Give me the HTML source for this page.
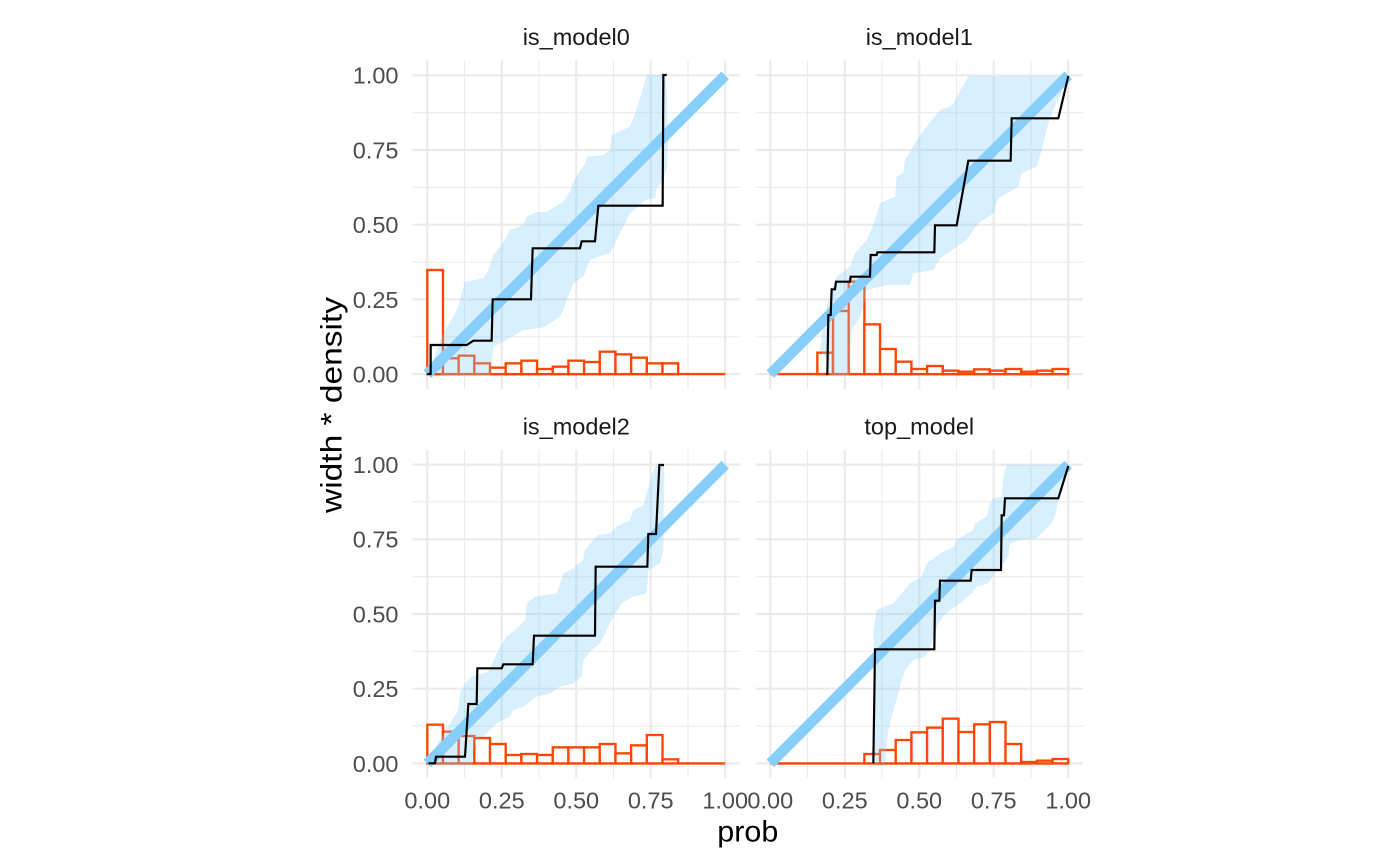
<!DOCTYPE html>
<html><head><meta charset="utf-8"><style>
html,body{margin:0;padding:0;background:#fff;}
svg{display:block;}
text{font-family:"Liberation Sans",sans-serif;}
</style></head><body>
<svg width="1400" height="865" viewBox="0 0 1400 865" xmlns="http://www.w3.org/2000/svg">
<rect width="1400" height="865" fill="#fff"/>
<!-- grids -->
<g fill="none" stroke="#EBEBEB">
<path stroke-width="1.1" d="M464.5 60.4V389M539 60.4V389M613.5 60.4V389M688 60.4V389M412.4 336.75H740.1M412.4 262.05H740.1M412.4 187.35H740.1M412.4 112.65H740.1"/>
<path stroke-width="2.2" d="M427.3 60.4V389M501.8 60.4V389M576.25 60.4V389M650.7 60.4V389M725.2 60.4V389M412.4 374.1H740.1M412.4 299.4H740.1M412.4 224.7H740.1M412.4 150H740.1M412.4 75.3H740.1"/>
<path stroke-width="1.1" d="M807.5 60.4V389M882 60.4V389M956.5 60.4V389M1031 60.4V389M755.4 336.75H1083.1M755.4 262.05H1083.1M755.4 187.35H1083.1M755.4 112.65H1083.1"/>
<path stroke-width="2.2" d="M770.3 60.4V389M844.8 60.4V389M919.25 60.4V389M993.7 60.4V389M1068.2 60.4V389M755.4 374.1H1083.1M755.4 299.4H1083.1M755.4 224.7H1083.1M755.4 150H1083.1M755.4 75.3H1083.1"/>
<path stroke-width="1.1" d="M464.5 449.7V778.3M539 449.7V778.3M613.5 449.7V778.3M688 449.7V778.3M412.4 726.05H740.1M412.4 651.35H740.1M412.4 576.65H740.1M412.4 501.95H740.1"/>
<path stroke-width="2.2" d="M427.3 449.7V778.3M501.8 449.7V778.3M576.25 449.7V778.3M650.7 449.7V778.3M725.2 449.7V778.3M412.4 763.4H740.1M412.4 688.7H740.1M412.4 614H740.1M412.4 539.3H740.1M412.4 464.6H740.1"/>
<path stroke-width="1.1" d="M807.5 449.7V778.3M882 449.7V778.3M956.5 449.7V778.3M1031 449.7V778.3M755.4 726.05H1083.1M755.4 651.35H1083.1M755.4 576.65H1083.1M755.4 501.95H1083.1"/>
<path stroke-width="2.2" d="M770.3 449.7V778.3M844.8 449.7V778.3M919.25 449.7V778.3M993.7 449.7V778.3M1068.2 449.7V778.3M755.4 763.4H1083.1M755.4 688.7H1083.1M755.4 614H1083.1M755.4 539.3H1083.1M755.4 464.6H1083.1"/>
</g>

<!-- Panel 1 -->
<g transform="translate(400,40) scale(0.333333)">
<g fill="#fff" stroke="#FF4500" stroke-width="7">
<line x1="81.9" y1="1002.3" x2="975.6" y2="1002.3"/>
<rect x="81.9" y="690" width="47.04" height="312.3"/>
<rect x="128.9" y="955" width="47.04" height="47.3"/>
<rect x="176.0" y="947" width="47.04" height="55.3"/>
<rect x="223.0" y="970" width="47.04" height="32.3"/>
<rect x="270.1" y="983" width="47.04" height="19.3"/>
<rect x="317.1" y="970" width="47.04" height="32.3"/>
<rect x="364.1" y="962" width="47.04" height="40.3"/>
<rect x="411.2" y="987" width="47.04" height="15.3"/>
<rect x="458.2" y="980" width="47.04" height="22.3"/>
<rect x="505.3" y="962" width="47.04" height="40.3"/>
<rect x="552.3" y="966" width="47.04" height="36.3"/>
<rect x="599.3" y="935" width="47.04" height="67.3"/>
<rect x="646.4" y="943" width="47.04" height="59.3"/>
<rect x="693.4" y="953" width="47.04" height="49.3"/>
<rect x="740.5" y="970" width="47.04" height="32.3"/>
<rect x="787.5" y="970" width="47.04" height="32.3"/>
</g>
<polygon fill="#87CEFA" fill-opacity="0.32" points="85,1000 100,960 120,905 135,870 160,830 175,800 185,760 195,725 250,715 265,690 280,645 300,620 320,590 330,570 370,555 380,530 405,518 440,515 490,485 510,455 520,425 545,385 555,370 560,350 610,345 630,330 635,285 690,260 705,220 715,190 730,140 740,105 795,105 800,150 805,300 800,390 785,425 770,445 765,475 735,480 715,500 690,520 670,560 650,600 630,640 595,650 570,660 550,710 520,730 500,780 490,810 480,830 450,850 430,862 370,870 320,900 280,920 271,1006 125,1006 110,990"/>
<line x1="81.9" y1="1002.3" x2="975.6" y2="105.9" stroke="#87CEFA" stroke-width="32"/>
<polyline fill="none" stroke="#000" stroke-width="6.5" points="82,1002 92,1002 92,915 200,915 220,902 275,902 278,778 393,778 398,625 540,625 545,604 585,604 595,497 788,497 790,105 800,105"/>
</g>

<!-- Panel 2 -->
<g transform="translate(740,40) scale(0.333333)">
<g fill="#fff" stroke="#FF4500" stroke-width="7">
<line x1="90.9" y1="1002.3" x2="984.6" y2="1002.3"/>
<rect x="232.0" y="938" width="47.04" height="64.3"/>
<rect x="279.1" y="813" width="47.04" height="189.3"/>
<rect x="326.1" y="725" width="47.04" height="277.3"/>
<rect x="373.1" y="853" width="47.04" height="149.3"/>
<rect x="420.2" y="927" width="47.04" height="75.3"/>
<rect x="467.2" y="965" width="47.04" height="37.3"/>
<rect x="514.3" y="987" width="47.04" height="15.3"/>
<rect x="561.3" y="978" width="47.04" height="24.3"/>
<rect x="608.3" y="992" width="47.04" height="10.3"/>
<rect x="655.4" y="995" width="47.04" height="7.3"/>
<rect x="702.4" y="988" width="47.04" height="14.3"/>
<rect x="749.5" y="992" width="47.04" height="10.3"/>
<rect x="796.5" y="987" width="47.04" height="15.3"/>
<rect x="843.5" y="995" width="47.04" height="7.3"/>
<rect x="890.6" y="992" width="47.04" height="10.3"/>
<rect x="937.6" y="987" width="47.04" height="15.3"/>
</g>
<polygon fill="#87CEFA" fill-opacity="0.32" points="240,930 250,850 262,790 290,710 330,680 345,640 380,600 400,555 420,490 465,470 470,410 490,400 495,360 530,300 560,260 600,210 630,200 640,190 685,108 985,108 940,210 925,250 905,330 890,380 845,400 835,440 775,475 760,520 715,550 700,570 680,600 600,655 580,690 520,700 510,735 440,735 380,750 370,800 355,840 335,870 328,1006 272,1006 262,960"/>
<line x1="90.9" y1="1002.3" x2="984.6" y2="105.9" stroke="#87CEFA" stroke-width="32"/>
<polyline fill="none" stroke="#000" stroke-width="6.5" points="258,1002 262,1002 265,825 272,825 275,748 285,748 288,725 330,725 332,710 390,710 392,645 410,645 412,637 583,637 585,556 650,556 685,362 812,362 815,235 955,235 985,108"/>
</g>

<!-- Panel 3 -->
<g transform="translate(400,430) scale(0.333333)">
<g fill="#fff" stroke="#FF4500" stroke-width="7">
<line x1="81.9" y1="1000.2" x2="975.6" y2="1000.2"/>
<rect x="81.9" y="884" width="47.04" height="116.2"/>
<rect x="128.9" y="905" width="47.04" height="95.2"/>
<rect x="176.0" y="918" width="47.04" height="82.2"/>
<rect x="223.0" y="924" width="47.04" height="76.2"/>
<rect x="270.1" y="942" width="47.04" height="58.2"/>
<rect x="317.1" y="975" width="47.04" height="25.2"/>
<rect x="364.1" y="972" width="47.04" height="28.2"/>
<rect x="411.2" y="975" width="47.04" height="25.2"/>
<rect x="458.2" y="952" width="47.04" height="48.2"/>
<rect x="505.3" y="952" width="47.04" height="48.2"/>
<rect x="552.3" y="952" width="47.04" height="48.2"/>
<rect x="599.3" y="942" width="47.04" height="58.2"/>
<rect x="646.4" y="970" width="47.04" height="30.2"/>
<rect x="693.4" y="946" width="47.04" height="54.2"/>
<rect x="740.5" y="915" width="47.04" height="85.2"/>
<rect x="787.5" y="988" width="47.04" height="12.2"/>
</g>
<polygon fill="#87CEFA" fill-opacity="0.32" points="85,990 120,930 150,880 175,840 180,790 195,760 215,740 265,725 300,650 320,620 345,600 375,570 380,520 405,500 470,490 480,460 490,430 520,415 550,390 555,360 580,330 595,315 630,310 650,290 690,270 700,240 730,225 740,190 750,160 760,120 770,104 792,104 793,130 790,360 780,400 745,420 740,490 700,500 665,520 640,560 600,640 575,660 550,690 545,740 520,760 480,770 450,790 410,800 370,830 340,840 330,860 290,880 270,900 250,920 225,925 215,1004 120,1004 95,1000"/>
<line x1="81.9" y1="1000.2" x2="975.6" y2="103.8" stroke="#87CEFA" stroke-width="32"/>
<polyline fill="none" stroke="#000" stroke-width="6.5" points="85,1000 105,1000 108,980 195,980 205,822 230,822 232,715 305,715 310,703 398,703 402,617 585,617 587,410 742,410 745,312 768,312 778,105 792,105"/>
</g>

<!-- Panel 4 -->
<g transform="translate(740,430) scale(0.333333)">
<g fill="#fff" stroke="#FF4500" stroke-width="7">
<line x1="90.9" y1="1000.2" x2="984.6" y2="1000.2"/>
<rect x="373.1" y="972" width="47.04" height="28.2"/>
<rect x="420.2" y="960" width="47.04" height="40.2"/>
<rect x="467.2" y="930" width="47.04" height="70.2"/>
<rect x="514.3" y="907" width="47.04" height="93.2"/>
<rect x="561.3" y="893" width="47.04" height="107.2"/>
<rect x="608.3" y="866" width="47.04" height="134.2"/>
<rect x="655.4" y="906" width="47.04" height="94.2"/>
<rect x="702.4" y="883" width="47.04" height="117.2"/>
<rect x="749.5" y="876" width="47.04" height="124.2"/>
<rect x="796.5" y="942" width="47.04" height="58.2"/>
<rect x="843.5" y="996" width="47.04" height="4.2"/>
<rect x="890.6" y="992" width="47.04" height="8.2"/>
<rect x="937.6" y="987" width="47.04" height="13.2"/>
</g>
<polygon fill="#87CEFA" fill-opacity="0.32" points="405,1000 400,600 410,540 460,520 510,460 545,440 560,400 600,370 640,350 650,330 700,300 705,280 740,260 750,220 760,205 785,200 790,140 800,104 985,104 955,210 945,260 930,285 890,325 840,330 810,340 805,380 790,400 770,420 745,460 710,470 695,490 660,520 630,540 610,560 595,580 580,620 570,660 555,680 520,690 495,720 480,770 470,810 455,860 445,900 440,950 435,1000"/>
<line x1="90.9" y1="1000.2" x2="984.6" y2="103.8" stroke="#87CEFA" stroke-width="32"/>
<polyline fill="none" stroke="#000" stroke-width="6.5" points="400,1000 405,658 583,658 585,512 598,512 600,452 692,452 695,420 783,420 785,256 792,256 795,205 955,205 985,108"/>
</g>

<!-- strip labels -->
<g font-size="23.5" fill="#1A1A1A" text-anchor="middle">
<text x="576.25" y="45">is_model0</text>
<text x="919.25" y="45">is_model1</text>
<text x="576.25" y="434.5">is_model2</text>
<text x="919.25" y="434.5">top_model</text>
</g>

<!-- y tick labels -->
<g font-size="23.5" fill="#4D4D4D" text-anchor="end">
<text x="398.5" y="382.5">0.00</text>
<text x="398.5" y="307.8">0.25</text>
<text x="398.5" y="233.1">0.50</text>
<text x="398.5" y="158.4">0.75</text>
<text x="398.5" y="83.7">1.00</text>
<text x="398.5" y="771.8">0.00</text>
<text x="398.5" y="697.1">0.25</text>
<text x="398.5" y="622.4">0.50</text>
<text x="398.5" y="547.7">0.75</text>
<text x="398.5" y="473">1.00</text>
</g>

<!-- x tick labels -->
<g font-size="23.5" fill="#4D4D4D" text-anchor="middle">
<text x="427.3" y="808.5">0.00</text>
<text x="501.8" y="808.5">0.25</text>
<text x="576.25" y="808.5">0.50</text>
<text x="650.7" y="808.5">0.75</text>
<text x="725.2" y="808.5">1.00</text>
<text x="770.3" y="808.5">0.00</text>
<text x="844.8" y="808.5">0.25</text>
<text x="919.25" y="808.5">0.50</text>
<text x="993.7" y="808.5">0.75</text>
<text x="1068.2" y="808.5">1.00</text>
</g>

<!-- axis titles -->
<text x="747.8" y="841.7" font-size="29.3" fill="#000" text-anchor="middle" textLength="61" lengthAdjust="spacingAndGlyphs">prob</text>
<text transform="translate(341.7,405) rotate(-90)" font-size="29.3" fill="#000" text-anchor="middle" textLength="216" lengthAdjust="spacingAndGlyphs">width * density</text>
</svg>
</body></html>
